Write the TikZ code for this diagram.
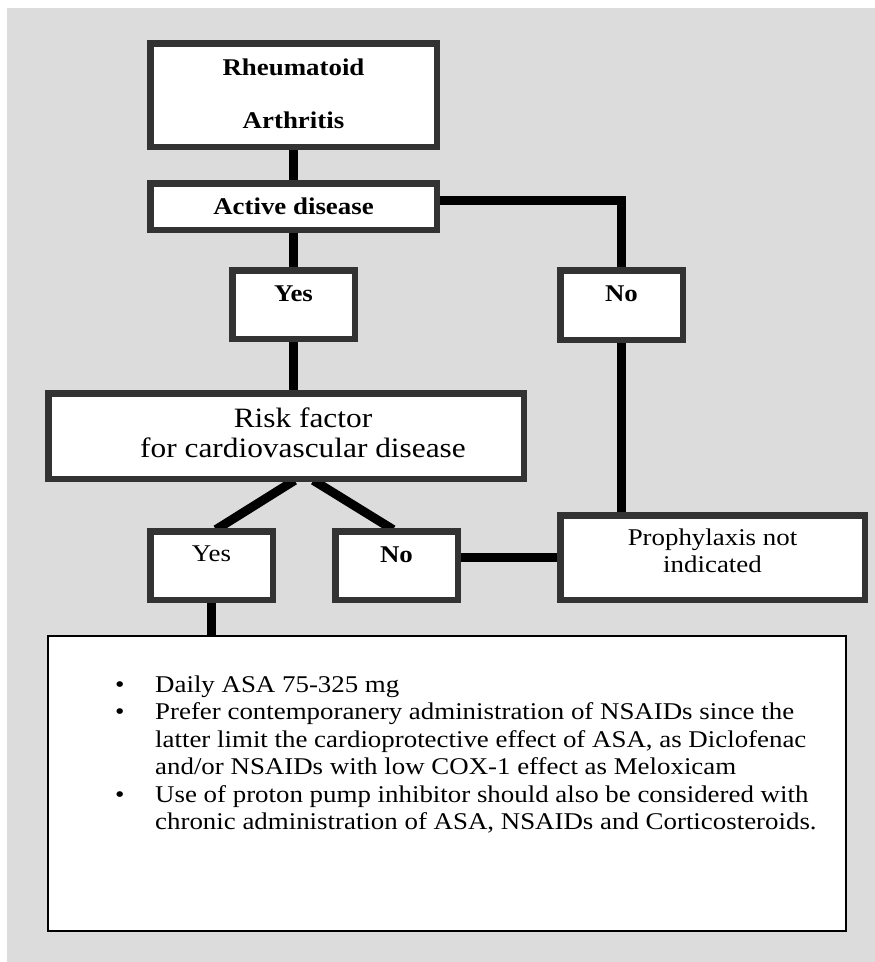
\documentclass[tikz,border=0pt]{standalone}
\usepackage{fontspec}
\setmainfont{Liberation Serif}[FakeStretch=1.12]
\pgfdeclarelayer{back}
\pgfdeclarelayer{lines}
\pgfsetlayers{back,lines,main}
\definecolor{bggray}{RGB}{220,220,220}
\definecolor{boxgray}{RGB}{51,51,51}
\newcommand{\bul}{\makebox[40pt][l]{\textbullet}}
\begin{document}
\begin{tikzpicture}[x=1pt,y=-1pt,
  box/.style={draw=boxgray,line width=6.5pt,fill=white,inner sep=0pt},
  conn/.style={line width=9pt,draw=black,shorten <=-3pt,shorten >=-3pt},
  bftext/.style={font=\fontsize{24pt}{28pt}\selectfont\bfseries},
  rmtext/.style={font=\fontsize{24pt}{27pt}\selectfont}]
\useasboundingbox (0,0) rectangle (875,962);
\begin{pgfonlayer}{back}
\fill[bggray] (7,8) rectangle (875,962);
\end{pgfonlayer}
% boxes
\node[box, minimum width=286.5pt, minimum height=103.5pt,
  font=\fontsize{24pt}{53pt}\selectfont\bfseries, text height=20pt, text depth=60pt]
  (ra) at (293.5,95) {\begin{tabular}[t]{@{}c@{}}Rheumatoid\\Arthritis\end{tabular}};
\node[box, bftext, minimum width=286.5pt, minimum height=46.5pt, text height=17pt, text depth=2pt]
  (ad) at (293.5,206.5) {Active disease};
\node[box, bftext, minimum width=122.5pt, minimum height=68.5pt, text height=17pt, text depth=24pt]
  (yes1) at (293.5,304.5) {Yes};
\node[box, bftext, minimum width=122.5pt, minimum height=69.5pt, text height=17pt, text depth=25pt]
  (no1) at (621.5,305) {No};
\node[box, font=\fontsize{28pt}{30pt}\selectfont, minimum width=475.5pt, minimum height=85.5pt,
  text height=20pt, text depth=38pt]
  (risk) at (286,436) {\hspace*{34pt}\begin{tabular}[t]{@{}c@{}}Risk factor\\for cardiovascular disease\end{tabular}};
\node[box, rmtext, minimum width=122.5pt, minimum height=68.5pt, text height=17pt, text depth=26pt]
  (yes2) at (211.5,565.5) {Yes};
\node[box, bftext, minimum width=122.5pt, minimum height=68.5pt, text height=17pt, text depth=24pt]
  (no2) at (396.5,565.5) {No};
\node[box, rmtext, minimum width=304.5pt, minimum height=84.5pt, text height=17pt, text depth=42pt]
  (proph) at (712.5,557.5) {\begin{tabular}[t]{@{}c@{}}Prophylaxis not\\indicated\end{tabular}};
\node[draw=black, line width=2pt, fill=white, inner sep=0pt, minimum width=798pt, minimum height=295pt]
  (big) at (447,783.5) {};
\node[anchor=base west, inner sep=0pt, font=\fontsize{24pt}{27.5pt}\selectfont]
  (list) at (115,692) {\begin{tabular}[t]{@{}l@{}l@{}}
  \bul & Daily ASA 75-325 mg\\
  \bul & Prefer contemporanery administration of NSAIDs since the\\
       & latter limit the cardioprotective effect of ASA, as Diclofenac\\
       & and/or NSAIDs with low COX-1 effect as Meloxicam\\
  \bul & Use of proton pump inhibitor should also be considered with\\
       & chronic administration of ASA, NSAIDs and Corticosteroids.
  \end{tabular}};
% connectors
\begin{pgfonlayer}{lines}
\draw[conn] (ra.south) -- (ad.north);
\draw[conn] (ad.south) -- (yes1.north);
\draw[conn] (yes1.south) -- (yes1.south |- risk.north);
\draw[conn] ([yshift=6.5pt]ad.east) -| (no1.north);
\draw[conn] (no1.south) -- (no1.south |- proph.north);
\draw[conn] ([xshift=6pt]risk.south) -- ([xshift=7pt]yes2.north);
\draw[conn] ([xshift=30pt]risk.south) -- ([xshift=-6pt]no2.north);
\draw[conn] (no2.east |- proph.west) -- (proph.west);
\draw[conn] (yes2.south) -- (yes2.south |- big.north);
\end{pgfonlayer}
\end{tikzpicture}
\end{document}
